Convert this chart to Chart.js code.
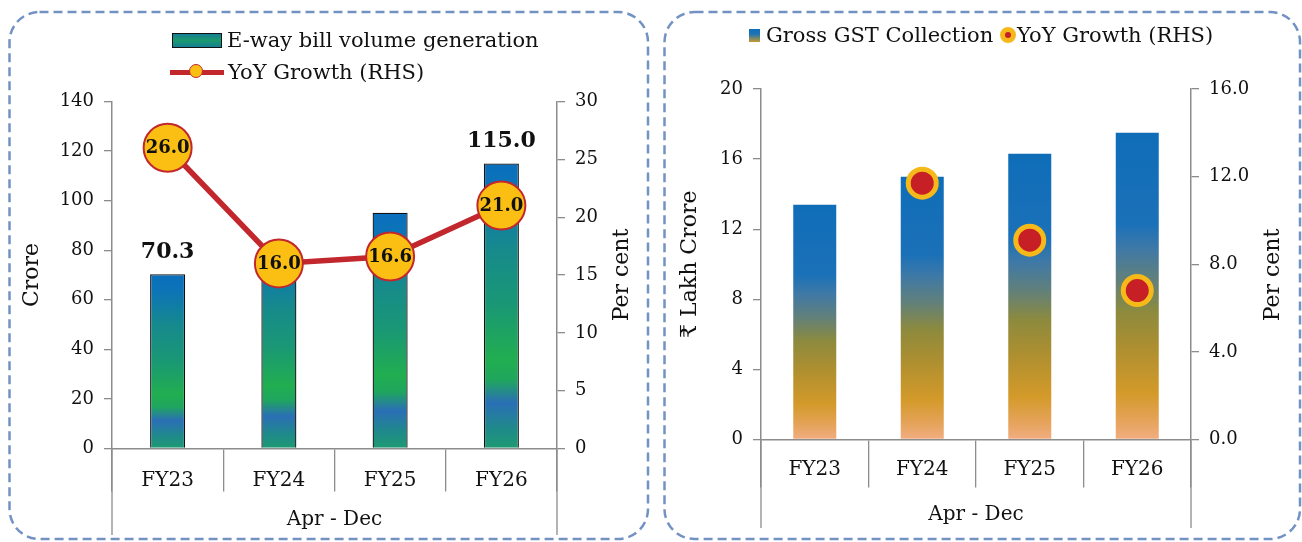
<!DOCTYPE html>
<html>
<head>
<meta charset="utf-8">
<script src="https://cdn.jsdelivr.net/npm/chart.js@4.4.1/dist/chart.umd.min.js"></script>
<style>
  html, body { margin: 0; padding: 0; background: #fff; }
  body { width: 1302px; height: 542px; position: relative; overflow: hidden; font-family: 'DejaVu Serif', serif; color: #111; }
  #frames { position: absolute; left: 0; top: 0; }
  canvas { position: absolute; top: 0; }
  #c1 { left: 0; }
  #c2 { left: 655px; }
  .lg { position: absolute; font-size: 21px; line-height: 26px; white-space: nowrap; }
  .sw { position: absolute; }
</style>
</head>
<body>
<svg id="frames" width="1302" height="542">
  <rect x="9.5" y="12" width="638.5" height="527" rx="30" fill="none" stroke="#7392c4" stroke-width="2.5" stroke-dasharray="9 5"/>
  <rect x="664.5" y="12" width="635.5" height="527" rx="30" fill="none" stroke="#7392c4" stroke-width="2.5" stroke-dasharray="9 5"/>
</svg>
<canvas id="c1" width="650" height="542"></canvas>
<canvas id="c2" width="647" height="542"></canvas>

<!-- legends -->
<div class="sw" style="left:172px;top:33px;width:48px;height:13px;border:1px solid #111;background:linear-gradient(#157f93,#1b9a6e,#157f93);"></div>
<div class="lg" style="left:227px;top:27px;">E-way bill volume generation</div>
<div class="sw" style="left:170px;top:70px;width:54px;height:5px;background:#c1272d;"></div>
<div class="sw" style="left:189px;top:64px;width:14px;height:14px;border-radius:50%;background:#fbbf14;border:1.5px solid #c1272d;box-sizing:border-box;"></div>
<div class="lg" style="left:228px;top:59px;">YoY Growth (RHS)</div>

<div class="sw" style="left:749px;top:29px;width:11px;height:13px;background:linear-gradient(#0f6fba,#1c74b6 40%,#c99a2e);"></div>
<div class="lg" style="left:766px;top:22px;">Gross GST Collection</div>
<div class="sw" style="left:1000px;top:27px;width:16px;height:16px;border-radius:50%;background:#c62026;border:5px solid #f6b91a;box-sizing:border-box;"></div>
<div class="lg" style="left:1017px;top:22px;">YoY Growth (RHS)</div>

<script>
// ── datos ──
const years = ['FY23', 'FY24', 'FY25', 'FY26'];
const ewayVolume = [70.3, 81.6, 95.1, 115.0];     // crore
const ewayGrowth = [26.0, 16.0, 16.6, 21.0];      // per cent
const ewayLabelIdx = [0, 3];                      // bars with a value label
const gstCollection = [13.4, 15.0, 16.3, 17.5];   // lakh crore
const gstGrowth = [null, 11.7, 9.1, 6.8];         // per cent

const ewayAxis = { min: 0, max: 140, step: 20 };
const ewayPctAxis = { min: 0, max: 30, step: 5 };
const gstAxis = { min: 0, max: 20, step: 4 };
const gstPctAxis = { min: 0, max: 16, step: 4 };

Chart.defaults.font.family = "'DejaVu Serif', serif";
Chart.defaults.color = '#111';

const AXIS = '#8c8c8c';

// gradient along each bar, base -> top
function barFill(stops) {
    return function (c) {
        const chart = c.chart;
        if (!chart.chartArea || c.type !== 'data') return stops[stops.length - 1][1];
        const y = chart.scales.y;
        const g = chart.ctx.createLinearGradient(0, y.getPixelForValue(0), 0, y.getPixelForValue(c.raw));
        stops.forEach(s => g.addColorStop(s[0], s[1]));
        return g;
    };
}

const ewayStops = [
    [0, '#1e9a72'], [0.07, '#1f8a8a'], [0.16, '#2a6fb6'], [0.24, '#1fa65e'],
    [0.31, '#21ae50'], [0.5, '#1a9874'], [0.7, '#168a8c'], [0.9, '#0d74b6'], [1, '#0a6fbd']
];
const gstStops = [
    [0, '#f2ad82'], [0.07, '#e3a255'], [0.15, '#d49a2a'], [0.3, '#ad8f30'],
    [0.42, '#8c8a3e'], [0.52, '#62807a'], [0.62, '#3f79a6'], [0.7, '#1b71b8'], [1, '#0f6db8']
];

// ── extras: edge lines, right titles, value labels ──
const extras = {
    id: 'extras',
    afterDatasetsDraw(chart, args, o) {
        const ctx = chart.ctx;
        ctx.save();
        ctx.textAlign = 'center';
        ctx.textBaseline = 'middle';
        ctx.fillStyle = '#111';
        if (o.barLabels) {
            const m = chart.getDatasetMeta(0);
            ctx.font = "bold 22px 'DejaVu Serif'";
            o.barLabels.forEach(i => {
                const el = m.data[i];
                ctx.fillText(chart.data.datasets[0].data[i].toFixed(1), el.x, el.y - 22);
            });
        }
        if (o.pointLabels) {
            const m = chart.getDatasetMeta(1);
            ctx.font = "bold 18px 'DejaVu Serif'";
            m.data.forEach((el, i) => {
                const v = chart.data.datasets[1].data[i];
                if (v != null) ctx.fillText(v.toFixed(1), el.x, el.y + 1);
            });
        }
        ctx.restore();
    },
    afterDraw(chart, args, o) {
        const { ctx, chartArea: a } = chart;
        ctx.save();
        ctx.strokeStyle = AXIS;
        ctx.lineWidth = 1.3;
        [a.left, a.right].forEach(x => {
            ctx.beginPath();
            ctx.moveTo(x, a.bottom);
            ctx.lineTo(x, o.edgeBottom);
            ctx.stroke();
        });
        ctx.translate(o.titleX, o.titleY);
        ctx.rotate(-Math.PI / 2);
        ctx.font = "22px 'DejaVu Serif'";
        ctx.fillStyle = '#111';
        ctx.textAlign = 'center';
        ctx.textBaseline = 'middle';
        ctx.fillText(o.title, 0, 0);
        ctx.restore();
    }
};

function xScale(h, tick, pad, titlePad) {
    return {
        offset: true,
        grid: { offset: true, drawOnChartArea: false, tickLength: tick, color: AXIS, lineWidth: 1.3 },
        border: { color: AXIS, width: 1.5 },
        ticks: { padding: pad, font: { size: 20 }, color: '#111' },
        title: { display: true, text: 'Apr - Dec', font: { size: 20 }, padding: { top: 0, bottom: titlePad } },
        afterFit: s => { s.height = h; }
    };
}

function yScale(pos, ax, w, fmt, title, titlePad) {
    const s = {
        position: pos,
        min: ax.min, max: ax.max,
        grid: { drawOnChartArea: false, tickLength: 8, color: AXIS, lineWidth: 1.3 },
        border: { color: AXIS, width: 1.5 },
        ticks: { stepSize: ax.step, padding: 10, font: { size: 18 }, color: '#111', callback: fmt },
        afterFit: sc => { sc.width = w; }
    };
    if (title) s.title = { display: true, text: title, font: { size: 22 }, padding: { top: titlePad } };
    return s;
}

// ── gráfico izquierdo: e-way bills ──
new Chart(document.getElementById('c1'), {
    data: {
        labels: years,
        datasets: [
            {
                type: 'bar', label: 'E-way bill volume generation', data: ewayVolume, yAxisID: 'y',
                backgroundColor: barFill(ewayStops), borderColor: '#111', borderWidth: 1.3,
                borderSkipped: 'bottom', barPercentage: 0.63, categoryPercentage: 0.5, order: 2
            },
            {
                type: 'line', label: 'YoY Growth (RHS)', data: ewayGrowth, yAxisID: 'y1',
                borderColor: '#c1272d', borderWidth: 5.5, pointRadius: 24, pointHoverRadius: 24,
                pointBackgroundColor: '#fbbf14', pointBorderColor: '#c1272d', pointBorderWidth: 2,
                tension: 0, order: 1
            }
        ]
    },
    options: {
        responsive: false,
        animation: false,
        layout: { padding: { top: 101.5, left: 0, right: 0, bottom: 0 } },
        plugins: {
            legend: { display: false },
            tooltip: { enabled: false },
            extras: { barLabels: ewayLabelIdx, pointLabels: true, edgeBottom: 535, title: 'Per cent', titleX: 622, titleY: 275 }
        },
        scales: {
            x: xScale(93.5, 43, -23, 10),
            y: yScale('left', ewayAxis, 112, v => v, 'Crore', 19),
            y1: yScale('right', ewayPctAxis, 93, v => v, null)
        }
    },
    plugins: [extras]
});

// ── gráfico derecho: GST ──
new Chart(document.getElementById('c2'), {
    data: {
        labels: years,
        datasets: [
            {
                type: 'bar', label: 'Gross GST Collection', data: gstCollection, yAxisID: 'y',
                backgroundColor: barFill(gstStops), borderWidth: 0,
                barPercentage: 0.8, categoryPercentage: 0.5, order: 2
            },
            {
                type: 'line', label: 'YoY Growth (RHS)', data: gstGrowth, yAxisID: 'y1',
                showLine: false, pointRadius: 14, pointHoverRadius: 14,
                pointBackgroundColor: '#c62026', pointBorderColor: '#f6b91a', pointBorderWidth: 5,
                order: 1
            }
        ]
    },
    options: {
        responsive: false,
        animation: false,
        layout: { padding: { top: 89, left: 0, right: 0, bottom: 0 } },
        plugins: {
            legend: { display: false },
            tooltip: { enabled: false },
            extras: { edgeBottom: 528, title: 'Per cent', titleX: 618, titleY: 275 }
        },
        scales: {
            x: xScale(102.5, 48, -30, 15),
            y: yScale('left', gstAxis, 106, v => v, '₹ Lakh Crore', 22),
            y1: yScale('right', gstPctAxis, 111, v => v.toFixed(1), null)
        }
    },
    plugins: [extras]
});
</script>
</body>
</html>
